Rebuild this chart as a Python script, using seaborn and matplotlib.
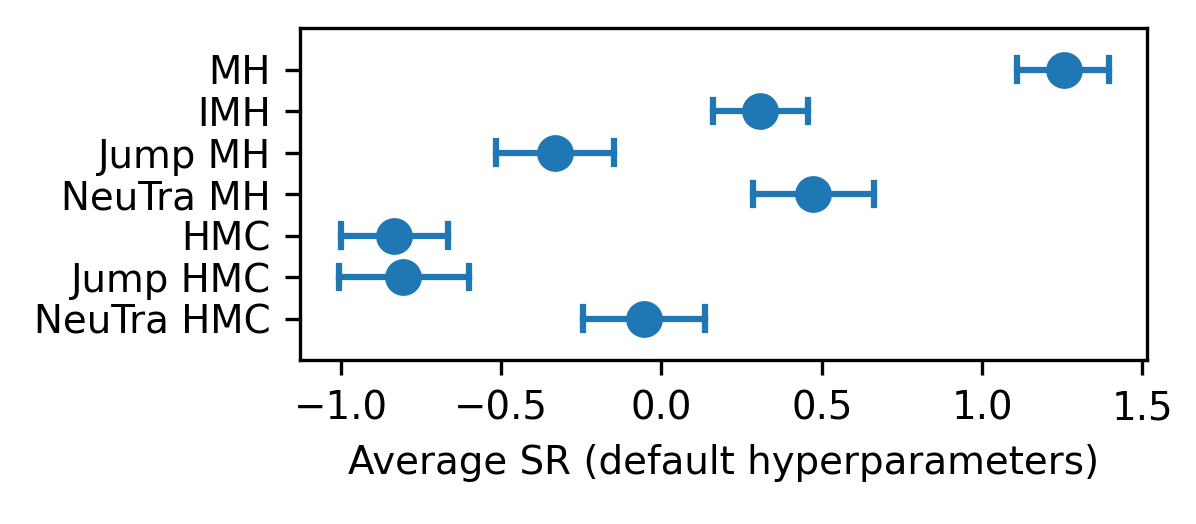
import numpy as np
import pandas as pd
import matplotlib
matplotlib.use("Agg")
import matplotlib.pyplot as plt
import seaborn as sns

methods = ["MH", "IMH", "Jump MH", "NeuTra MH", "HMC", "Jump HMC", "NeuTra HMC"]
center = [1.254, 0.308, -0.333, 0.474, -0.834, -0.805, -0.054]
lower = [1.110, 0.160, -0.515, 0.286, -1.000, -1.007, -0.245]
upper = [1.394, 0.456, -0.149, 0.663, -0.666, -0.600, 0.137]

rows = []
for m, c, lo, hi in zip(methods, center, lower, upper):
    for v in (lo, c, hi):
        rows.append({"method": m, "sr": v})
df = pd.DataFrame(rows)

plt.rcParams["font.family"] = ["DejaVu Sans"]
plt.rcParams["font.size"] = 9.3

fig, ax = plt.subplots(figsize=(1196 / 300, 524 / 300), dpi=300)
fig.subplots_adjust(left=300 / 1196, right=1147 / 1196, top=1 - 28 / 524, bottom=1 - 360 / 524)

sns.pointplot(
    data=df, x="sr", y="method", order=methods, orient="h",
    estimator="median", errorbar=lambda v: (v.min(), v.max()),
    color="#1f77b4", capsize=0.55, linestyle="none",
    markersize=6.8, err_kws={"linewidth": 1.5}, ax=ax,
)
ax.set_ylim(7, -1)
ax.set_ylabel("")
ax.set_xlabel("Average SR (default hyperparameters)")
ax.set_xticks([-1.0, -0.5, 0.0, 0.5, 1.0, 1.5])
ax.tick_params(labelsize=9.3)
for s in ax.spines.values():
    s.set_visible(True)
    s.set_linewidth(0.8)
    s.set_color("black")
ax.grid(False)

fig.savefig("out.png", dpi=300)
